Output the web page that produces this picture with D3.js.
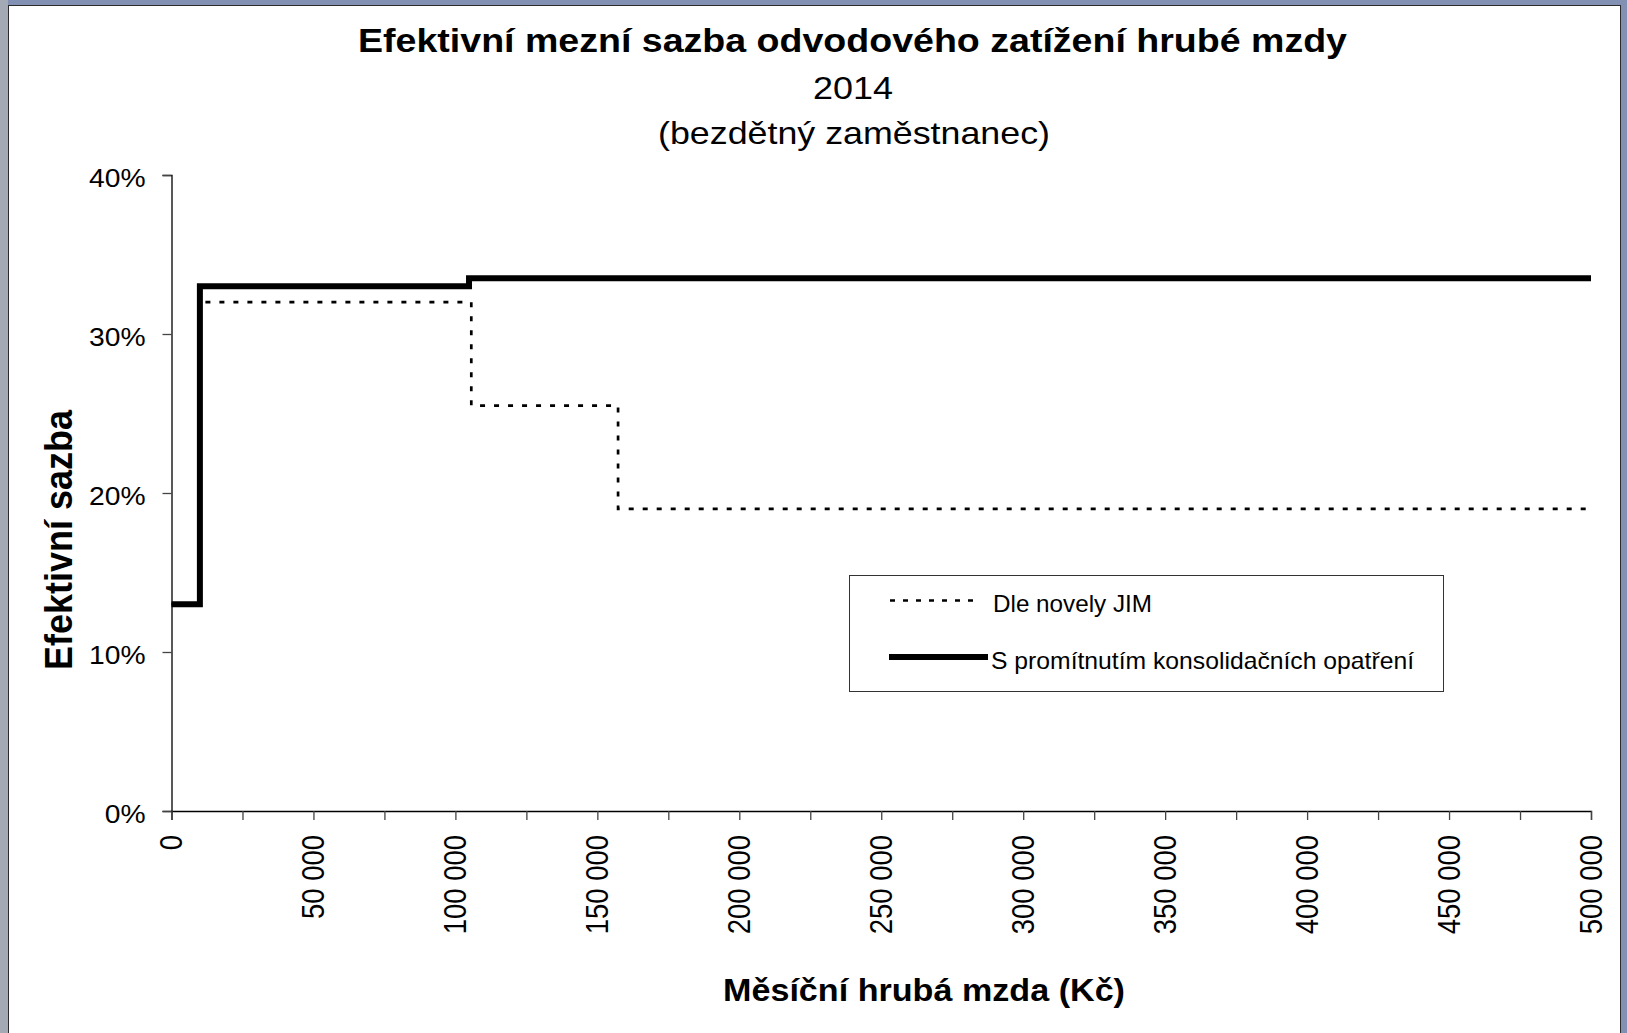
<!DOCTYPE html>
<html>
<head>
<meta charset="utf-8">
<script src="https://cdn.jsdelivr.net/npm/d3@7"></script>
<style>
  body { margin: 0; background: #8190b3; }
  svg { display: block; font-family: "Liberation Sans", Arial, sans-serif; }
</style>
</head>
<body>
<svg id="chart" width="1627" height="1033"></svg>
<script>
// data (rate in %)
var wageJim = [0, 10000, 105600, 157300, 500000];
var rateJim = [13, 32, 25.5, 19, 19];
var wageKons = [0, 10000, 104800, 500000];
var rateKons = [13, 33, 33.5, 33.5];
var seriesNames = ["Dle novely JIM", "S promítnutím konsolidačních opatření"];
var yTicks = [0, 0.1, 0.2, 0.3, 0.4];
var xTicks = [0, 25000, 50000, 75000, 100000, 125000, 150000, 175000, 200000, 225000,
              250000, 275000, 300000, 325000, 350000, 375000, 400000, 425000, 450000, 475000, 500000];
var titleLines = ["Efektivní mezní sazba odvodového zatížení hrubé mzdy", "2014", "(bezdětný zaměstnanec)"];
var xTitle = "Měsíční hrubá mzda (Kč)";
var yTitle = "Efektivní sazba";

var SX = 1.13; // the original picture is stretched sideways a bit

var svg = d3.select("#chart");

// frame
svg.append("rect").attr("x", 0).attr("y", 0).attr("width", 8).attr("height", 1033).attr("fill", "#a4a9b6");
svg.append("rect").attr("x", 8.5).attr("y", 5.5).attr("width", 1612).attr("height", 1040)
  .attr("fill", "#fff").attr("stroke", "#2b2b2b").attr("stroke-width", 1);

var x = d3.scaleLinear().domain([0, 500000]).range([171.5, 1591]);
var y = d3.scaleLinear().domain([0, 0.4]).range([811, 175]);

var cz = d3.formatLocale({ decimal: ",", thousands: " ", grouping: [3], currency: ["", " Kč"] });
var fmtX = cz.format(",d");

// titles
var titleY = [51.7, 99.3, 143.5];
var titleX = [852.5, 853, 854];
var titleW = [989, 80, 392];
titleLines.forEach(function (t, i) {
  svg.append("text")
    .attr("x", titleX[i]).attr("y", titleY[i])
    .attr("text-anchor", "middle")
    .attr("font-size", i === 0 ? 32.5 : 31.5)
    .attr("font-weight", i === 0 ? "bold" : "normal")
    .attr("textLength", titleW[i]).attr("lengthAdjust", "spacingAndGlyphs")
    .text(t);
});

// y axis
var yAxis = svg.append("g").attr("transform", "translate(171.5,0)")
  .call(d3.axisLeft(y).tickValues(yTicks).tickFormat(d3.format(".0%")).tickSizeOuter(0).tickSize(9).tickPadding(17));
yAxis.select(".domain").attr("stroke", "#000").attr("stroke-width", 1.3);
yAxis.selectAll(".tick line").attr("stroke", "#444").attr("stroke-width", 1.3);
yAxis.selectAll(".tick text")
  .attr("font-size", 25).attr("fill", "#000").attr("font-family", "Liberation Sans, Arial, sans-serif")
  .attr("dy", "0.45em")
  .each(function () {
    this.setAttribute("textLength", this.getComputedTextLength() * SX);
    this.setAttribute("lengthAdjust", "spacingAndGlyphs");
  });

// x axis
var xAxis = svg.append("g").attr("transform", "translate(0,811)")
  .call(d3.axisBottom(x).tickValues(xTicks).tickSizeOuter(0).tickSize(9)
    .tickFormat(function (d) { return d % 50000 === 0 ? fmtX(d) : ""; }));
xAxis.select(".domain").attr("stroke", "#000").attr("stroke-width", 1.3);
xAxis.selectAll(".tick line").attr("stroke", "#444").attr("stroke-width", 1.3);
xAxis.selectAll(".tick text")
  .attr("font-size", 27.5).attr("fill", "#000").attr("font-family", "Liberation Sans, Arial, sans-serif")
  .attr("text-anchor", "end").attr("dy", null).attr("y", null)
  .attr("transform", "translate(10,24) rotate(-90) scale(1," + SX + ")");

// axis titles
svg.append("text")
  .attr("x", 924).attr("y", 1001).attr("text-anchor", "middle")
  .attr("font-size", 31).attr("font-weight", "bold")
  .attr("textLength", 402).attr("lengthAdjust", "spacingAndGlyphs")
  .text(xTitle);
svg.append("text")
  .attr("transform", "translate(72,540) rotate(-90) scale(1," + SX + ")")
  .attr("text-anchor", "middle")
  .attr("font-size", 35).attr("font-weight", "bold")
  .attr("textLength", 260).attr("lengthAdjust", "spacingAndGlyphs")
  .text(yTitle);

// lines
var line = d3.line()
  .x(function (d) { return x(d[0]); })
  .y(function (d) { return y(d[1] / 100); })
  .curve(d3.curveStepAfter);

svg.append("path")
  .datum(d3.zip(wageJim, rateJim))
  .attr("d", line)
  .attr("fill", "none").attr("stroke", "#000")
  .attr("stroke-width", 2.7).attr("stroke-dasharray", "5,9");

svg.append("path")
  .datum(d3.zip(wageKons, rateKons))
  .attr("d", line)
  .attr("fill", "none").attr("stroke", "#000")
  .attr("stroke-width", 6).attr("stroke-linejoin", "miter").attr("stroke-linecap", "butt");

// legend
var leg = svg.append("g");
leg.append("rect").attr("x", 849.5).attr("y", 575.5).attr("width", 594).attr("height", 116)
  .attr("fill", "#fff").attr("stroke", "#333").attr("stroke-width", 1);
leg.append("line").attr("x1", 890).attr("x2", 981).attr("y1", 600.5).attr("y2", 600.5)
  .attr("stroke", "#000").attr("stroke-width", 2.7).attr("stroke-dasharray", "5,8");
leg.append("line").attr("x1", 889).attr("x2", 988).attr("y1", 657).attr("y2", 657)
  .attr("stroke", "#000").attr("stroke-width", 6);
leg.append("text").attr("x", 993).attr("y", 612).attr("font-size", 24)
  .attr("textLength", 159).attr("lengthAdjust", "spacingAndGlyphs").text(seriesNames[0]);
leg.append("text").attr("x", 991).attr("y", 669).attr("font-size", 24)
  .attr("textLength", 423).attr("lengthAdjust", "spacingAndGlyphs").text(seriesNames[1]);
</script>
</body>
</html>
